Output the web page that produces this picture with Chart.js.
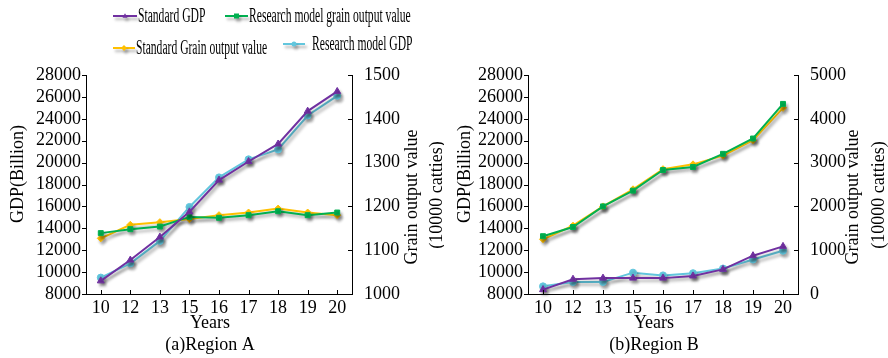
<!DOCTYPE html>
<html>
<head>
<meta charset="utf-8">
<script src="https://cdn.jsdelivr.net/npm/chart.js@4.4.1/dist/chart.umd.min.js"></script>
<style>
  body { margin: 0; background: #fff; }
  #wrap { position: relative; width: 888px; height: 358px; overflow: hidden; }
  canvas { position: absolute; top: 0; }
  #chartA { left: 0; }
  #chartB { left: 444px; }
</style>
</head>
<body>
<div id="wrap">
  <canvas id="chartA" width="444" height="358"></canvas>
  <canvas id="chartB" width="444" height="358"></canvas>
</div>
<script>
// years (x axis)
var years = ['10', '12', '13', '15', '16', '17', '18', '19', '20'];

// Region A
var stdGdpA     = [9200, 11100, 13200, 15500, 18400, 20100, 21700, 24700, 26500];
var modelGdpA   = [9500, 10800, 12850, 15950, 18650, 20300, 21200, 24300, 26100];
var modelGrainA = [1139, 1148, 1154, 1176, 1174, 1180, 1189, 1180, 1186];
var stdGrainA   = [1127, 1158, 1164, 1171, 1180, 1186, 1195, 1186, 1180];

// Region B
var stdGdpB     = [8400, 9350, 9450, 9450, 9450, 9650, 10250, 11500, 12350];
var modelGdpB   = [8700, 9100, 9100, 9950, 9700, 9900, 10330, 11150, 11950];
var modelGrainB = [1320, 1530, 2000, 2360, 2830, 2900, 3200, 3550, 4340];
var stdGrainB   = [1250, 1560, 2000, 2390, 2850, 2960, 3160, 3510, 4250];

var seriesNames = ['Standard GDP', 'Research model grain output value', 'Standard Grain output value', 'Research model GDP'];
var colors = ['#7030A0', '#00B050', '#FFC000', '#62C6DD'];
var markers = ['triangle', 'rect', 'rectRot', 'circle'];

var FONT = '"Liberation Serif", "Times New Roman", serif';

function drawMarker(ctx, style, x, y, r) {
    ctx.beginPath();
    if (style === 'triangle') {
        ctx.moveTo(x, y - r * 1.1);
        ctx.lineTo(x + r, y + r * 0.7);
        ctx.lineTo(x - r, y + r * 0.7);
    } else if (style === 'rect') {
        ctx.rect(x - r, y - r, 2 * r, 2 * r);
    } else if (style === 'rectRot') {
        ctx.moveTo(x, y - r * 1.2);
        ctx.lineTo(x + r * 1.2, y);
        ctx.lineTo(x, y + r * 1.2);
        ctx.lineTo(x - r * 1.2, y);
    } else {
        ctx.arc(x, y, r, 0, Math.PI * 2);
    }
    ctx.closePath();
    ctx.fill();
}

// soft drop shadow under lines and markers
var shadowPlugin = {
    id: 'shadow',
    beforeDatasetsDraw: function (chart) {
        var ctx = chart.ctx;
        ctx.save();
        ctx.shadowColor = 'rgba(0,0,0,0.3)';
        ctx.shadowBlur = 3;
        ctx.shadowOffsetX = 2;
        ctx.shadowOffsetY = 3;
    },
    afterDatasetsDraw: function (chart) {
        chart.ctx.restore();
    }
};

// small tick marks + axis titles drawn by hand (right title reads bottom-to-top)
var decorPlugin = {
    id: 'decor',
    afterDraw: function (chart, args, opts) {
        var ctx = chart.ctx;
        var a = chart.chartArea;
        var sx = chart.scales.x, sy = chart.scales.y, sy1 = chart.scales.y1;
        ctx.save();
        ctx.strokeStyle = '#000';
        ctx.lineWidth = 1;
        ctx.beginPath();
        sy.ticks.forEach(function (t, i) {
            var p = Math.round(sy.getPixelForTick(i)) + 0.5;
            ctx.moveTo(a.left - 4, p); ctx.lineTo(a.left, p);
        });
        sy1.ticks.forEach(function (t, i) {
            var p = Math.round(sy1.getPixelForTick(i)) + 0.5;
            ctx.moveTo(a.right - 4, p); ctx.lineTo(a.right, p);
        });
        sx.ticks.forEach(function (t, i) {
            var p = Math.round(sx.getPixelForTick(i)) + 0.5;
            ctx.moveTo(p, a.bottom - 4); ctx.lineTo(p, a.bottom);
        });
        ctx.stroke();

        ctx.fillStyle = '#000';
        ctx.font = '18px ' + FONT;
        ctx.textAlign = 'center';
        ctx.textBaseline = 'middle';
        ctx.fillText('Years', opts.bottomX, 323);
        ctx.fillText(opts.caption, opts.bottomX, 345);

        ctx.save();
        ctx.translate(opts.leftX, 174);
        ctx.rotate(-Math.PI / 2);
        ctx.fillText('GDP(Billion)', 0, 0);
        ctx.restore();

        ctx.save();
        ctx.translate(opts.rightX[0], 197);
        ctx.rotate(-Math.PI / 2);
        ctx.fillText('Grain output value', 0, 0);
        ctx.restore();

        ctx.save();
        ctx.translate(opts.rightX[1], 195);
        ctx.rotate(-Math.PI / 2);
        ctx.fillText('(10000 catties)', 0, 0);
        ctx.restore();

        if (opts.legend) {
            var items = [
                { i: 0, x1: 113, x2: 137, y: 16, tx: 138 },
                { i: 1, x1: 225, x2: 248, y: 16, tx: 249 },
                { i: 2, x1: 113, x2: 135, y: 48, tx: 136 },
                { i: 3, x1: 283, x2: 305, y: 44, tx: 312 }
            ];
            items.forEach(function (it) {
                ctx.save();
                ctx.shadowColor = 'rgba(0,0,0,0.3)';
                ctx.shadowBlur = 3;
                ctx.shadowOffsetX = 2;
                ctx.shadowOffsetY = 3;
                ctx.strokeStyle = colors[it.i];
                ctx.fillStyle = colors[it.i];
                ctx.lineWidth = 2;
                ctx.beginPath();
                ctx.moveTo(it.x1, it.y); ctx.lineTo(it.x2, it.y);
                ctx.stroke();
                drawMarker(ctx, markers[it.i], (it.x1 + it.x2) / 2, it.y, 2.5);
                ctx.restore();

                ctx.save();
                ctx.fillStyle = '#000';
                ctx.font = '20px ' + FONT;
                ctx.textAlign = 'left';
                ctx.textBaseline = 'middle';
                ctx.translate(it.tx, it.y + 1);
                ctx.scale(0.58, 1);
                ctx.fillText(seriesNames[it.i], 0, 0);
                ctx.restore();
            });
        }
        ctx.restore();
    }
};

function makeChart(id, gdpStd, grainModel, grainStd, gdpModel, rightMin, rightMax, rightStep, leftW, rightW, decor) {
    var series = [gdpStd, grainModel, grainStd, gdpModel];
    var axes = ['y', 'y1', 'y1', 'y'];
    var datasets = series.map(function (d, i) {
        return {
            label: seriesNames[i],
            data: d,
            yAxisID: axes[i],
            borderColor: colors[i],
            backgroundColor: colors[i],
            borderWidth: 2,
            pointStyle: markers[i],
            pointRadius: i === 0 ? 4 : 3.5,
            pointBorderWidth: 1,
            tension: 0,
            clip: false
        };
    });
    var tickFont = { family: FONT, size: 18 };
    return new Chart(document.getElementById(id), {
        type: 'line',
        data: { labels: years, datasets: datasets },
        options: {
            responsive: false,
            animation: false,
            layout: { padding: { top: 75, left: 0, right: 0, bottom: 0 } },
            plugins: {
                legend: { display: false },
                tooltip: { enabled: false },
                decor: decor
            },
            scales: {
                x: {
                    offset: true,
                    grid: { display: true, drawOnChartArea: false, drawTicks: false },
                    border: { color: '#000', width: 1 },
                    ticks: { color: '#000', font: tickFont, padding: 3, maxRotation: 0, autoSkip: false },
                    afterFit: function (s) { s.height = 64; }
                },
                y: {
                    position: 'left',
                    min: 8000, max: 28000,
                    grid: { display: true, drawOnChartArea: false, drawTicks: false },
                    border: { color: '#000', width: 1 },
                    ticks: { color: '#000', font: tickFont, stepSize: 2000, padding: 5, autoSkip: false,
                             callback: function (v) { return String(v); } },
                    afterFit: function (s) { s.width = leftW; }
                },
                y1: {
                    position: 'right',
                    min: rightMin, max: rightMax,
                    grid: { display: true, drawOnChartArea: false, drawTicks: false },
                    border: { color: '#000', width: 1 },
                    ticks: { color: '#000', font: tickFont, stepSize: rightStep, padding: 12, autoSkip: false,
                             callback: function (v) { return String(v); } },
                    afterFit: function (s) { s.width = rightW; }
                }
            }
        },
        plugins: [shadowPlugin, decorPlugin]
    });
}

makeChart('chartA', stdGdpA, modelGrainA, stdGrainA, modelGdpA, 1000, 1500, 100, 86, 92,
    { caption: '(a)Region A', bottomX: 210, leftX: 18, rightX: [412, 437], legend: true });
makeChart('chartB', stdGdpB, modelGrainB, stdGrainB, modelGdpB, 0, 5000, 1000, 84, 90,
    { caption: '(b)Region B', bottomX: 210, leftX: 21, rightX: [409, 435], legend: false });
</script>
</body>
</html>
